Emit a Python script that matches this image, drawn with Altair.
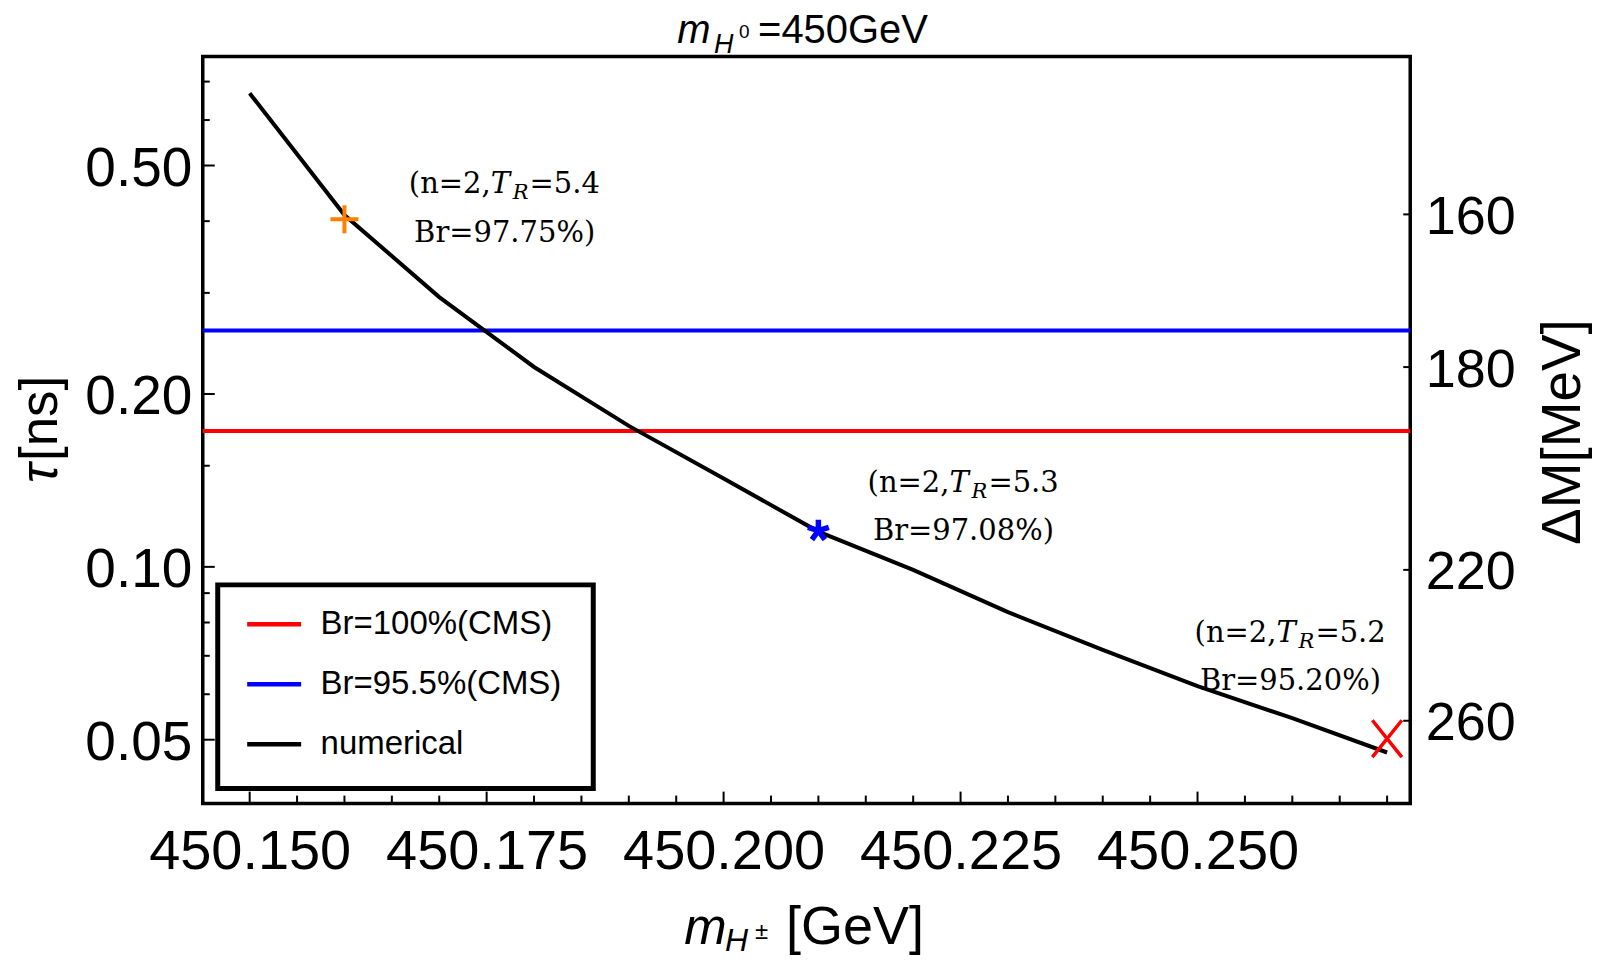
import altair as alt
import pandas as pd

SANS = "Liberation Sans"
SERIF = "DejaVu Serif"

# ---------------- data ----------------
curve_mass = [450.150, 450.160, 450.170, 450.180, 450.190, 450.200, 450.210,
              450.220, 450.230, 450.240, 450.250, 450.260, 450.270]
curve_tau = [0.668, 0.410, 0.295, 0.2229, 0.176, 0.1425, 0.1152,
             0.0988, 0.0834, 0.0717, 0.0620, 0.0545, 0.0475]

limit_names = ["Br=100%(CMS)", "Br=95.5%(CMS)"]
limit_tau = [0.1725, 0.258]
series_names = ["Br=100%(CMS)", "Br=95.5%(CMS)", "numerical"]
series_colors = ["#ff0000", "#0000ff", "#000000"]

bench_mass = [450.160, 450.210, 450.270]
bench_tau = [0.403, 0.1156, 0.0502]
bench_TR = ["5.4", "5.3", "5.2"]
bench_Br = ["97.75%", "97.08%", "95.20%"]
label_mass = [450.1769, 450.2253, 450.2598]
label_tau_line1 = [0.447, 0.135, 0.0740]
label_tau_line2 = [0.3674, 0.1114, 0.0611]

x_domain = [450.14505, 450.27244]
y_domain = [0.0387, 0.774]
x_major = [450.150, 450.175, 450.200, 450.225, 450.250]
x_minor = [450.155, 450.160, 450.165, 450.170, 450.180, 450.185, 450.190, 450.195,
           450.205, 450.210, 450.215, 450.220, 450.230, 450.235, 450.240, 450.245,
           450.255, 450.260, 450.265, 450.270]
y_major = [0.05, 0.10, 0.20, 0.50]
y_minor = [0.06, 0.07, 0.08, 0.09, 0.15, 0.3, 0.4, 0.6, 0.7]
dm_labels = ["160", "180", "220", "260"]
dm_tau = [0.411, 0.2228, 0.0988, 0.05395]

# ---------------- scales / axes ----------------
xs = alt.Scale(domain=x_domain, nice=False, zero=False)
ys = alt.Scale(type="log", domain=y_domain, nice=False)
ys2 = alt.Scale(type="log", domain=y_domain, nice=False)

x_axis = alt.Axis(values=x_major, format=".3f", labelFont=SANS, labelFontSize=56,
                  labelColor="black", labelPadding=21, ticks=False, tickSize=0,
                  domain=False, grid=False, title=None, labelFlush=False,
                  labelOverlap=False, labelLimit=1000)
y_axis = alt.Axis(values=y_major, format=".2f", labelFont=SANS, labelFontSize=55,
                  labelColor="black", labelPadding=11, ticks=False, tickSize=0,
                  domain=False, grid=False, title=None, labelOverlap=False,
                  labelOffset=3, orient="left", labelLimit=1000)

expr = ""
for t, lab in zip(dm_tau, dm_labels):
    expr += f"abs(datum.value-{t})<1e-9 ? '{lab}' : "
expr += "''"
r_axis = alt.Axis(values=dm_tau, labelExpr=expr, labelFont=SANS, labelFontSize=54,
                  labelColor="black", labelPadding=15, ticks=False, tickSize=0,
                  domain=False, grid=False, title=None, labelOverlap=False,
                  labelOffset=3, orient="right", labelLimit=1000)

X = alt.X("x:Q", scale=xs, axis=x_axis)


def Y(field):
    return alt.Y(f"{field}:Q", scale=ys, axis=y_axis)


color_enc = alt.Color(
    "series:N",
    scale=alt.Scale(domain=series_names, range=series_colors),
    legend=alt.Legend(orient="none", legendX=14, legendY=522, title=None,
                      direction="vertical", labelLimit=1000),
)

# ---------------- layers ----------------
df_lim = pd.DataFrame({"series": limit_names, "tau": limit_tau})
rules = alt.Chart(df_lim).mark_rule(strokeWidth=4).encode(y=Y("tau"), color=color_enc)

df_curve = pd.DataFrame({"x": curve_mass, "tau": curve_tau,
                         "series": ["numerical"] * len(curve_mass)})
curve = alt.Chart(df_curve).mark_line(strokeWidth=4).encode(x=X, y=Y("tau"), color=color_enc)

PLUS = "M-1,0L1,0M0,-1L0,1"
STAR = ("M0,0L0,-1M0,0L0.951,-0.309M0,0L0.588,0.809"
        "M0,0L-0.588,0.809M0,0L-0.951,-0.309")
CROSS = "M-0.8,-1L0.8,1M-0.8,1L0.8,-1"
marker_specs = [(PLUS, "#ff8000", 784, 4), (STAR, "#0000ff", 484, 5.5),
                (CROSS, "#ff0000", 1369, 3.5)]
markers = []
for i, (shape, col, size, sw) in enumerate(marker_specs):
    dfm = pd.DataFrame({"x": [bench_mass[i]], "tau": [bench_tau[i]]})
    markers.append(
        alt.Chart(dfm).mark_point(shape=shape, filled=False, stroke=col, size=size,
                                  strokeWidth=sw, opacity=1)
        .encode(x=X, y=Y("tau"))
    )

df_ann = pd.DataFrame({
    "x": label_mass,
    "tau1": label_tau_line1,
    "tau2": label_tau_line2,
    "pre": ["(n=2,"] * 3,
    "T": ["T"] * 3,
    "R": ["R"] * 3,
    "eq": ["=" + v for v in bench_TR],
    "br": ["Br=" + v + ")" for v in bench_Br],
})
ann = alt.Chart(df_ann)
ann_layers = [
    ann.mark_text(font=SERIF, fontSize=29, align="right", baseline="alphabetic",
                  dx=-14, color="black").encode(x=X, y=Y("tau1"), text="pre:N"),
    ann.mark_text(font=SERIF, fontSize=29, fontStyle="italic", align="left",
                  baseline="alphabetic", dx=-14, color="black").encode(x=X, y=Y("tau1"), text="T:N"),
    ann.mark_text(font=SERIF, fontSize=21, fontStyle="italic", align="left",
                  baseline="alphabetic", dx=8, dy=6, color="black").encode(x=X, y=Y("tau1"), text="R:N"),
    ann.mark_text(font=SERIF, fontSize=29, align="left", baseline="alphabetic",
                  dx=25, color="black").encode(x=X, y=Y("tau1"), text="eq:N"),
    ann.mark_text(font=SERIF, fontSize=29, align="center", baseline="alphabetic",
                  color="black").encode(x=X, y=Y("tau2"), text="br:N"),
]

# inward frame ticks
df_lmaj = pd.DataFrame({"x": [x_domain[0]] * len(y_major), "tau": y_major})
df_lmin = pd.DataFrame({"x": [x_domain[0]] * len(y_minor), "tau": y_minor})
df_bmaj = pd.DataFrame({"x": x_major, "tau": [y_domain[0]] * len(x_major)})
df_bmin = pd.DataFrame({"x": x_minor, "tau": [y_domain[0]] * len(x_minor)})
tick_layers = [
    alt.Chart(df_lmaj).mark_tick(orient="horizontal", size=12, thickness=2, xOffset=6,
                                 color="black", opacity=1).encode(x=X, y=Y("tau")),
    alt.Chart(df_lmin).mark_tick(orient="horizontal", size=7, thickness=2, xOffset=3.5,
                                 color="black", opacity=1).encode(x=X, y=Y("tau")),
    alt.Chart(df_bmaj).mark_tick(orient="vertical", size=12, thickness=2, yOffset=-6,
                                 color="black", opacity=1).encode(x=X, y=Y("tau")),
    alt.Chart(df_bmin).mark_tick(orient="vertical", size=8, thickness=2, yOffset=-4,
                                 color="black", opacity=1).encode(x=X, y=Y("tau")),
]

# legend frame (drawn as a box behind the legend entries)
legend_box = alt.Chart(pd.DataFrame({"k": [0]})).mark_rect(
    fill="white", stroke="black", strokeWidth=5
).encode(x=alt.value(15), x2=alt.value(391), y=alt.value(529), y2=alt.value(733))


def txt(s, x, y, size, font=SANS, style="normal", angle=0, align="left"):
    return alt.Chart(pd.DataFrame({"t": [s]})).mark_text(
        font=font, fontSize=size, fontStyle=style, angle=angle, align=align,
        baseline="alphabetic", color="black"
    ).encode(x=alt.value(x), y=alt.value(y), text="t:N")


titles = [
    # top title  m_{H^0}=450GeV
    txt("m", 475, -14, 40, style="italic"),
    txt("H", 512, -4, 27, style="italic"),
    txt("0", 537, -19, 19),
    txt("=450GeV", 556, -14, 40),
    # x title  m_{H^±}[GeV]
    txt("m", 482, 889, 51, style="italic"),
    txt("H", 523, 896, 32, style="italic"),
    txt("±", 553, 884, 24),
    txt("[GeV]", 584, 889, 54),
    # y titles
    txt("τ", -146, 427, 52, style="italic", angle=270),
    txt("[ns]", -146, 405, 53, angle=270),
    txt("ΔM[MeV]", 1379, 376, 55, angle=270, align="center"),
]

inner = alt.layer(rules, curve, *markers, *ann_layers, *tick_layers, legend_box, *titles)

df_r = pd.DataFrame({"x": [x_domain[1]] * len(dm_tau), "tau": dm_tau})
right_ticks = alt.Chart(df_r).mark_tick(orient="horizontal", size=7, thickness=2,
                                        xOffset=-3.5, color="black", opacity=1).encode(
    x=X, y=alt.Y("tau:Q", scale=ys2, axis=r_axis))

chart = (
    alt.layer(inner, right_ticks)
    .resolve_scale(y="independent")
    .properties(width=1209, height=748,
                padding={"left": 195, "top": 48, "right": 182, "bottom": 155},
                autosize=alt.AutoSizeParams(type="none"), background="white")
    .configure_view(stroke="black", strokeWidth=3.5)
    .configure_legend(padding=17, labelFont=SANS, labelFontSize=33, labelColor="black",
                      symbolType="stroke", symbolStrokeWidth=4.5, symbolSize=2916,
                      rowPadding=13, labelOffset=17, symbolOffset=11)
)

chart.save("out.html", embed_options={"renderer": "svg", "actions": False})
